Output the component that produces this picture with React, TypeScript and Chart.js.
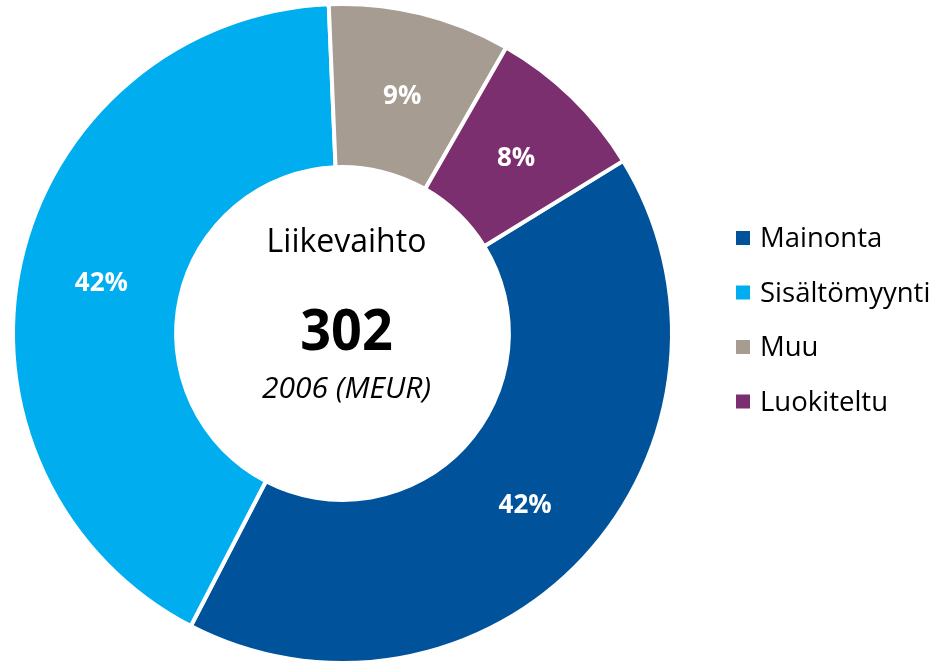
import React, { useEffect, useRef } from 'react';
import { Chart, registerables } from 'chart.js';

Chart.register(...registerables);

const categories = ['Mainonta', 'Sisältömyynti', 'Muu', 'Luokiteltu'];
const revenueMeur = [125, 126, 27, 24];
const shareLabels = ['42%', '42%', '9%', '8%'];
const segmentColors = ['#00539B', '#00ADEE', '#A69C92', '#7B2F6E'];
const centerTitle = 'Liikevaihto';
const centerTotal = '302';
const centerSubtitle = '2006 (MEUR)';

const FONT = '"Open Sans", "DejaVu Sans", sans-serif';

function drawScaledText(ctx: any, text: string, x: number, y: number, sx: number) {
  ctx.save();
  ctx.translate(x, y);
  ctx.scale(sx, 1);
  ctx.fillText(text, 0, 0);
  ctx.restore();
}

const sliceLabelsPlugin = {
  id: 'sliceLabels',
  afterDatasetsDraw(chart: any) {
    const ctx = chart.ctx;
    const meta = chart.getDatasetMeta(0);
    ctx.save();
    ctx.fillStyle = '#ffffff';
    ctx.font = `bold 26px ${FONT}`;
    ctx.textAlign = 'center';
    ctx.textBaseline = 'alphabetic';
    meta.data.forEach((arc: any, i: number) => {
      const p = arc.getCenterPoint();
      ctx.fillText(shareLabels[i], p.x + 1, p.y + 11);
    });
    ctx.restore();
  },
};

const centerTextPlugin = {
  id: 'centerText',
  afterDatasetsDraw(chart: any) {
    const ctx = chart.ctx;
    const arc = chart.getDatasetMeta(0).data[0];
    const cx = arc.x + 4;
    const cy = arc.y;
    ctx.save();
    ctx.fillStyle = '#000000';
    ctx.textAlign = 'center';
    ctx.textBaseline = 'alphabetic';
    ctx.font = `32px ${FONT}`;
    drawScaledText(ctx, centerTitle, cx, cy - 82, 1);
    ctx.font = `bold 58px ${FONT}`;
    drawScaledText(ctx, centerTotal, cx, cy + 16.5, 0.93);
    ctx.font = `italic 30px ${FONT}`;
    drawScaledText(ctx, centerSubtitle, cx, cy + 64.5, 1);
    ctx.restore();
  },
};

const legendPlugin = {
  id: 'sideLegend',
  afterDraw(chart: any) {
    const ctx = chart.ctx;
    const labels = chart.data.labels as string[];
    const colors = chart.data.datasets[0].backgroundColor as string[];
    const x0 = 736;
    const y0 = 238;
    const step = 54.5;
    ctx.save();
    ctx.font = `27.5px ${FONT}`;
    ctx.textAlign = 'left';
    ctx.textBaseline = 'alphabetic';
    labels.forEach((label, i) => {
      const cy = y0 + i * step;
      ctx.fillStyle = colors[i];
      ctx.fillRect(x0, cy - 7, 14, 14);
      ctx.fillStyle = '#000000';
      ctx.fillText(label, x0 + 24, cy + 9);
    });
    ctx.restore();
  },
};

export default function App() {
  const canvasRef = useRef<HTMLCanvasElement | null>(null);

  useEffect(() => {
    if (!canvasRef.current) return;
    const chart = new Chart(canvasRef.current, {
      type: 'doughnut',
      data: {
        labels: categories,
        datasets: [
          {
            data: revenueMeur,
            backgroundColor: segmentColors,
            borderColor: '#ffffff',
            borderWidth: 4,
            hoverOffset: 0,
          },
        ],
      },
      options: {
        responsive: false,
        animation: false,
        rotation: 58.4,
        cutout: '50.5%',
        layout: { padding: { left: 11, right: 265, top: 2, bottom: 35 } },
        plugins: {
          legend: { display: false },
          tooltip: { enabled: false },
        },
      },
      plugins: [sliceLabelsPlugin, centerTextPlugin, legendPlugin],
    });
    return () => chart.destroy();
  }, []);

  return (
    <div
      style={{
        position: 'fixed',
        left: 0,
        top: 0,
        width: 939,
        height: 663,
        overflow: 'hidden',
        background: '#ffffff',
      }}
    >
      <canvas ref={canvasRef} width={939} height={700} />
    </div>
  );
}
